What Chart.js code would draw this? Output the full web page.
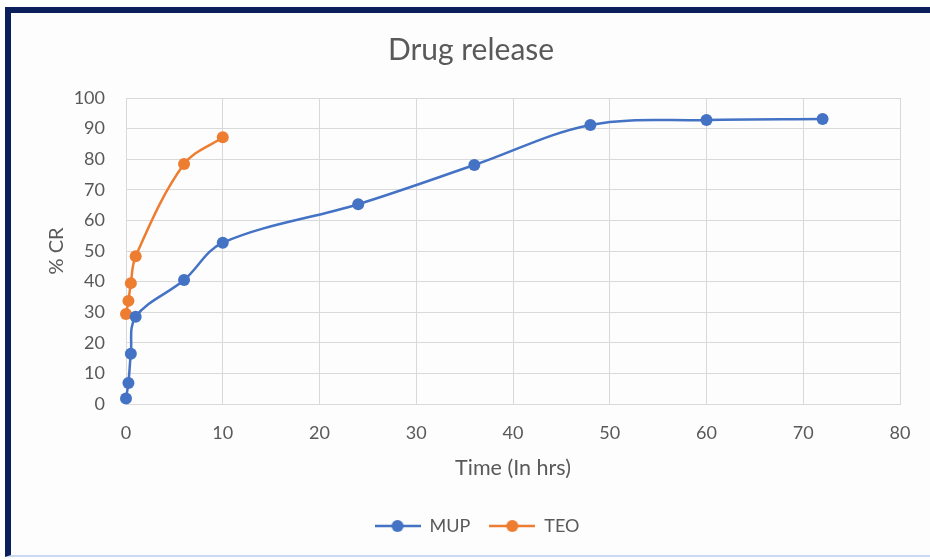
<!DOCTYPE html>
<html>
<head>
<meta charset="utf-8">
<title>Drug release</title>
<script src="https://cdn.jsdelivr.net/npm/chart.js@4.4.1/dist/chart.umd.min.js"></script>
<style>
  html, body { margin: 0; padding: 0; background: #ffffff; }
  body { width: 930px; height: 559px; position: relative; overflow: hidden; }
  #frame {
    position: absolute; left: 5px; top: 7px; right: -10px; bottom: 2px;
    border-top: 6px solid #0b1f5c; border-left: 6px solid #0b1f5c;
    border-bottom: 2px solid #c9d9f2;
    background: #fdfdfd;
  }
  #wrap { position: absolute; left: 12px; top: 13px; width: 918px; height: 542px; }
</style>
</head>
<body>
<div id="frame"></div>
<div id="wrap"><canvas id="chart" width="918" height="542"></canvas></div>
<script>
// Sampling times (hours) and cumulative release (%)
const mupTime = [0, 0.25, 0.5, 1, 6, 10, 24, 36, 48, 60, 72];
const mupRelease = [1.8, 6.9, 16.4, 28.5, 40.5, 52.7, 65.3, 78.1, 91.2, 92.8, 93.1];
const teoTime = [0, 0.25, 0.5, 1, 6, 10];
const teoRelease = [29.4, 33.7, 39.5, 48.3, 78.4, 87.2];

const seriesNames = ['MUP', 'TEO'];
const seriesColors = ['#4472c4', '#ed7d31'];

const xTicks = [0, 10, 20, 30, 40, 50, 60, 70, 80];
const yTicks = [0, 10, 20, 30, 40, 50, 60, 70, 80, 90, 100];

const textColor = '#595959';
const fontFamily = 'Lato, "Open Sans", sans-serif';

// Legend marker: short line with a dot in the middle
function lineDotMarker(color) {
  const c = document.createElement('canvas');
  c.width = 46; c.height = 14;
  const g = c.getContext('2d');
  g.strokeStyle = color; g.lineWidth = 2.5;
  g.beginPath(); g.moveTo(0, 7); g.lineTo(46, 7); g.stroke();
  g.fillStyle = color;
  g.beginPath(); g.arc(23, 7, 6, 0, Math.PI * 2); g.fill();
  return c;
}

function toPoints(xs, ys) { return xs.map((x, i) => ({ x: x, y: ys[i] })); }

const datasets = [
  { label: seriesNames[0], data: toPoints(mupTime, mupRelease) },
  { label: seriesNames[1], data: toPoints(teoTime, teoRelease) }
].map((d, i) => Object.assign(d, {
  borderColor: seriesColors[i],
  backgroundColor: seriesColors[i],
  borderWidth: 2.5,
  pointRadius: 6,
  pointHoverRadius: 6,
  pointBorderWidth: 0,
  tension: 0.35,
  clip: false,
  pointStyle: 'circle',
  legendMarker: lineDotMarker(seriesColors[i])
}));

// Nudge the legend row a little to the right of the centre line
const legendNudge = {
  id: 'legendNudge',
  afterLayout(chart) {
    if (chart.legend) { chart.legend.left += 6; chart.legend.right += 6; }
  }
};

new Chart(document.getElementById('chart'), {
  type: 'line',
  data: { datasets: datasets },
  plugins: [legendNudge],
  options: {
    responsive: false,
    animation: false,
    layout: { padding: { left: 30, right: 30, top: 0, bottom: 10 } },
    plugins: {
      title: {
        display: true,
        text: 'Drug release',
        color: textColor,
        font: { family: fontFamily, size: 30, weight: 'normal' },
        padding: { top: 19, bottom: 30 }
      },
      legend: {
        position: 'bottom',
        padding: 10,
        labels: {
          color: textColor,
          font: { family: fontFamily, size: 18 },
          usePointStyle: true,
          pointStyleWidth: 46,
          padding: 19,
          generateLabels: (chart) => chart.data.datasets.map((d, i) => ({
            text: d.label,
            fontColor: textColor,
            pointStyle: d.legendMarker,
            fillStyle: d.backgroundColor,
            strokeStyle: d.borderColor,
            lineWidth: 0,
            hidden: false,
            datasetIndex: i
          }))
        }
      },
      tooltip: { enabled: false }
    },
    scales: {
      x: {
        type: 'linear',
        min: xTicks[0],
        max: xTicks[xTicks.length - 1],
        afterBuildTicks: (s) => { s.ticks = xTicks.map(v => ({ value: v })); },
        afterFit: (s) => { s.height = 94; },
        grid: { color: '#d9d9d9', lineWidth: 1, drawTicks: false },
        border: { color: '#d9d9d9', width: 1 },
        ticks: {
          color: textColor,
          font: { family: fontFamily, size: 18 },
          padding: 18,
          maxRotation: 0
        },
        title: {
          display: true,
          text: 'Time (In hrs)',
          color: textColor,
          font: { family: fontFamily, size: 21.5 },
          padding: { top: 0, bottom: 17 }
        }
      },
      y: {
        type: 'linear',
        min: yTicks[0],
        max: yTicks[yTicks.length - 1],
        afterBuildTicks: (s) => { s.ticks = yTicks.map(v => ({ value: v })); },
        afterFit: (s) => { s.width = 84; },
        grid: { color: '#d9d9d9', lineWidth: 1, drawTicks: false },
        border: { color: '#d9d9d9', width: 1 },
        ticks: {
          color: textColor,
          font: { family: fontFamily, size: 18 },
          padding: 21
        },
        title: {
          display: true,
          text: '% CR',
          color: textColor,
          font: { family: fontFamily, size: 20 },
          padding: { top: 3, bottom: 0 }
        }
      }
    }
  }
});
</script>
</body>
</html>
